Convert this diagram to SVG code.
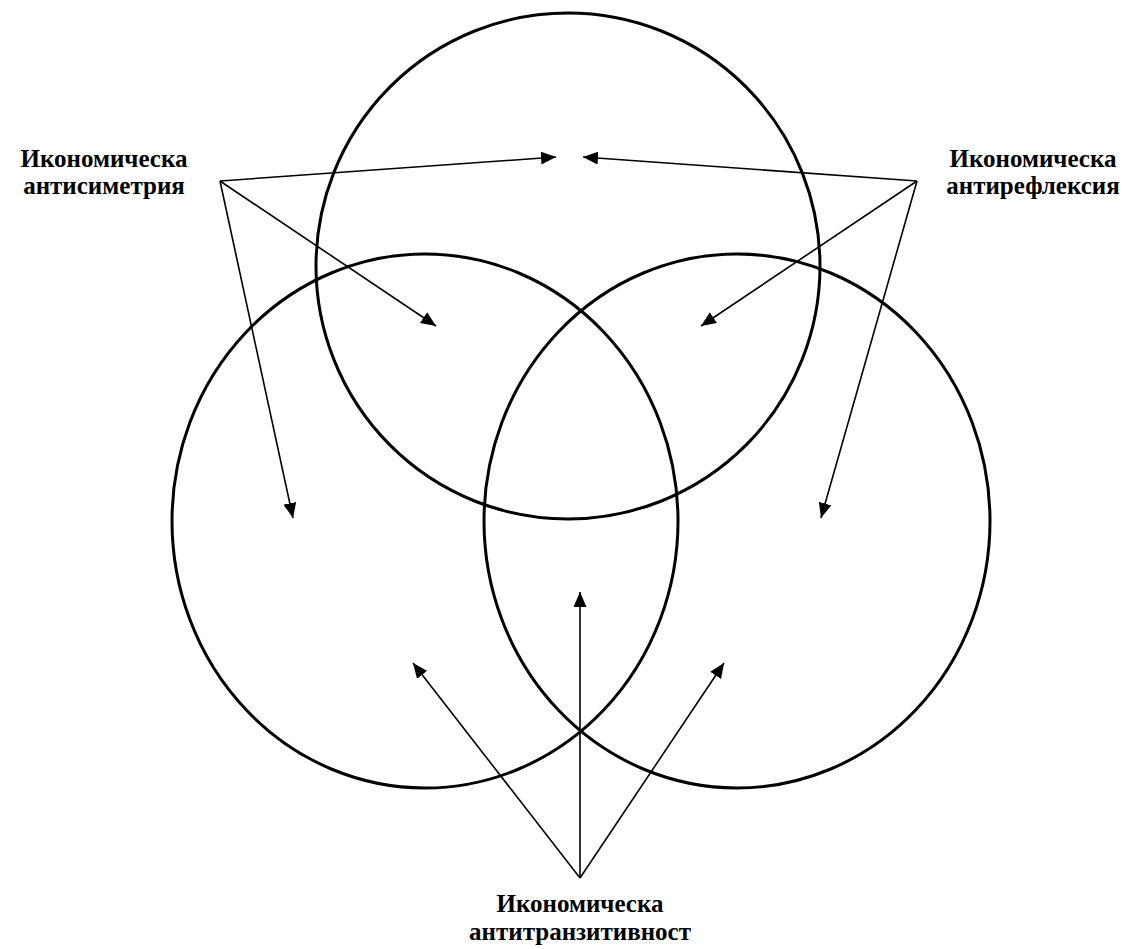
<svg xmlns="http://www.w3.org/2000/svg" width="1133" height="949" viewBox="0 0 1133 949">
<style>
.c{fill:none;stroke:#000;stroke-width:3}
.a{fill:none;stroke:#000;stroke-width:1.6;marker-end:url(#ah)}
.t{font-family:"Liberation Serif","Times New Roman",serif;font-weight:bold;font-size:25px;text-anchor:middle;fill:#000}
</style>
<defs>
<marker id="ah" viewBox="0 0 15 13" refX="15" refY="6.5" markerWidth="15" markerHeight="13" markerUnits="userSpaceOnUse" orient="auto">
<path d="M0,0 L15,6.5 L0,13 Z" fill="#000"/>
</marker>
</defs>
<rect width="1133" height="949" fill="#fff"/>
<g id="top-circle"><ellipse class="c" cx="568" cy="266" rx="252" ry="253"/></g>
<g id="left-circle"><ellipse class="c" cx="425" cy="521" rx="253" ry="267"/></g>
<g id="right-circle"><ellipse class="c" cx="737" cy="521" rx="253" ry="267"/></g>
<g id="connectors">
<path class="a" d="M220,181 L556,157"/>
<path class="a" d="M220,181 L436,326"/>
<path class="a" d="M220,181 L293,518"/>
<path class="a" d="M917,181 L583,157"/>
<path class="a" d="M917,181 L701,326"/>
<path class="a" d="M917,181 L821,518"/>
<path class="a" d="M580,878 L580,592"/>
<path class="a" d="M580,878 L413,663"/>
<path class="a" d="M580,878 L724,663"/>
</g>
<g id="label-left"><text class="t" x="104" y="167">Икономическа</text><text class="t" x="104" y="194">антисиметрия</text></g>
<g id="label-right"><text class="t" x="1033" y="167">Икономическа</text><text class="t" x="1033" y="194">антирефлексия</text></g>
<g id="label-bottom"><text class="t" x="580" y="912">Икономическа</text><text class="t" x="580" y="940">антитранзитивност</text></g>
</svg>
